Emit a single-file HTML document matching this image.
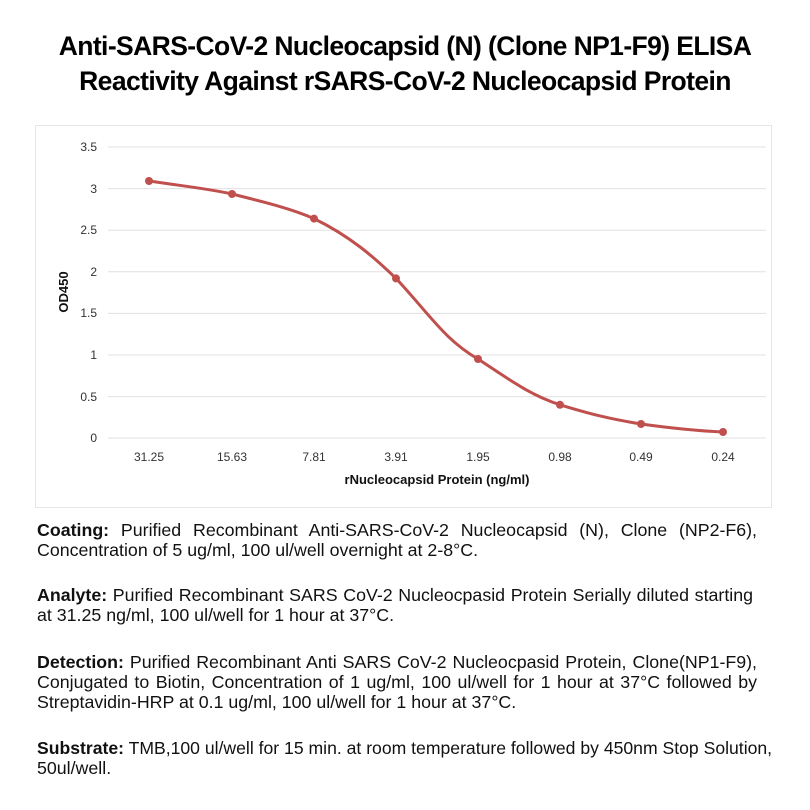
<!DOCTYPE html>
<html><head><style>
body{margin:0;width:810px;height:810px;background:#fff;font-family:"Liberation Sans",Arial,sans-serif;position:relative;overflow:hidden}
.t{position:absolute;left:0;width:810px;text-align:center;font-weight:bold;font-size:26.5px;color:#000;letter-spacing:-0.6px}
.l{position:absolute;left:37px;font-size:17.8px;line-height:20px;color:#111;white-space:nowrap}
.j{text-align:justify;text-align-last:justify;white-space:normal}
</style></head><body>
<div class="t" style="top:31px">Anti-SARS-CoV-2 Nucleocapsid (N) (Clone NP1-F9) ELISA</div>
<div class="t" style="top:66px">Reactivity Against rSARS-CoV-2 Nucleocapsid Protein</div>
<svg style="position:absolute;left:0;top:0" width="810" height="810">
<rect x="35.5" y="125.5" width="736" height="382" fill="none" stroke="#e6e6e6"/>
<g stroke="#e0e0e0" stroke-width="1">
<line x1="108" x2="766" y1="147" y2="147"/><line x1="108" x2="766" y1="188.6" y2="188.6"/>
<line x1="108" x2="766" y1="230.2" y2="230.2"/><line x1="108" x2="766" y1="271.8" y2="271.8"/>
<line x1="108" x2="766" y1="313.4" y2="313.4"/><line x1="108" x2="766" y1="355" y2="355"/>
<line x1="108" x2="766" y1="396.6" y2="396.6"/><line x1="108" x2="766" y1="438" y2="438"/>
</g>
<g font-size="12" fill="#333" text-anchor="end" font-family="Liberation Sans,sans-serif">
<text x="97" y="151">3.5</text><text x="97" y="193">3</text><text x="97" y="234">2.5</text>
<text x="97" y="276">2</text><text x="97" y="317">1.5</text><text x="97" y="359">1</text>
<text x="97" y="401">0.5</text><text x="97" y="442">0</text>
</g>
<g font-size="12" fill="#333" text-anchor="middle">
<text x="149" y="461">31.25</text><text x="232" y="461">15.63</text><text x="314" y="461">7.81</text>
<text x="396" y="461">3.91</text><text x="478" y="461">1.95</text><text x="560" y="461">0.98</text>
<text x="641" y="461">0.49</text><text x="723" y="461">0.24</text>
</g>
<text x="437" y="484" font-size="13" font-weight="bold" text-anchor="middle" fill="#111">rNucleocapsid Protein (ng/ml)</text>
<text transform="translate(68,292) rotate(-90)" font-size="13" font-weight="bold" text-anchor="middle" fill="#111">OD450</text>
<path d="M149,181 C190,187 210,189 232,194 C260,201 290,208 314,218.6 C350,236 375,258 396,278.4 C430,315 445,340 478,359 C510,380 530,395 560,404.8 C590,414 610,419 641,424 C670,428 700,431 723,432" fill="none" stroke="#c0504d" stroke-width="3"/>
<g fill="#c0504d">
<circle cx="149" cy="181" r="4"/><circle cx="232" cy="194" r="4"/><circle cx="314" cy="218.6" r="4"/>
<circle cx="396" cy="278.4" r="4"/><circle cx="478" cy="359" r="4"/><circle cx="560" cy="404.8" r="4"/>
<circle cx="641" cy="424" r="4"/><circle cx="723" cy="432" r="4"/>
</g>
</svg>
<div class="l j" style="top:520px;width:720px"><b>Coating:</b> Purified Recombinant Anti-SARS-CoV-2 Nucleocapsid (N), Clone (NP2-F6),</div>
<div class="l" style="top:540px">Concentration of 5 ug/ml, 100 ul/well overnight at 2-8°C.</div>
<div class="l j" style="top:585px;width:716px"><b>Analyte:</b> Purified Recombinant SARS CoV-2 Nucleocpasid Protein Serially diluted starting</div>
<div class="l" style="top:605px">at 31.25 ng/ml, 100 ul/well for 1 hour at 37°C.</div>
<div class="l j" style="top:652px;width:720px"><b>Detection:</b> Purified Recombinant Anti SARS CoV-2 Nucleocpasid Protein, Clone(NP1-F9),</div>
<div class="l j" style="top:672px;width:720px">Conjugated to Biotin, Concentration of 1 ug/ml, 100 ul/well for 1 hour at 37°C followed by</div>
<div class="l" style="top:692px">Streptavidin-HRP at 0.1 ug/ml, 100 ul/well for 1 hour at 37°C.</div>
<div class="l" style="top:738px;font-size:17.6px"><b>Substrate:</b> TMB,100 ul/well for 15 min. at room temperature followed by 450nm Stop Solution,</div>
<div class="l" style="top:758px">50ul/well.</div>
</body></html>
